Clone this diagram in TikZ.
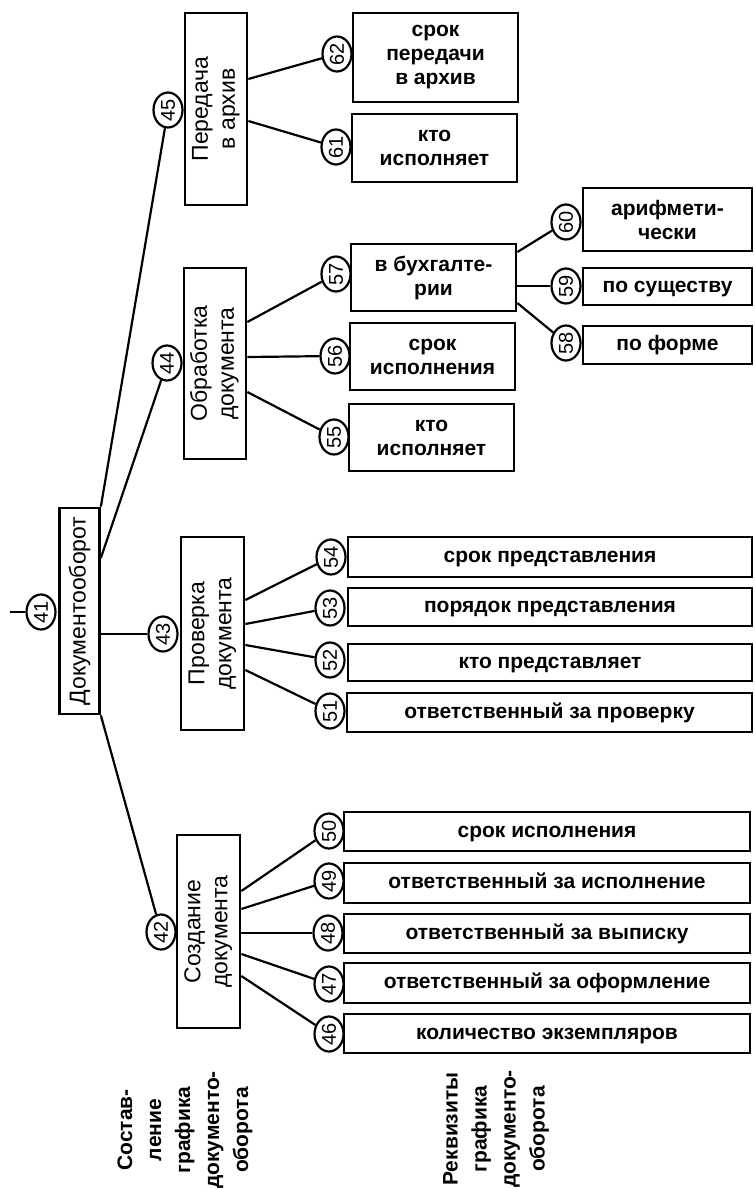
\documentclass[tikz,border=0pt]{standalone}
\usepackage{fontspec}
\setmainfont{Liberation Sans}
\usetikzlibrary{shapes.geometric}
\begin{document}
\begin{tikzpicture}[x=1pt,y=1pt,
  box/.style={draw, line width=2.7pt, inner sep=0pt, align=center,
    font=\fontsize{21}{24}\selectfont\bfseries},
  one/.style={box, text height=15pt, text depth=4pt},
  vbox/.style={draw, line width=2.7pt, inner sep=0pt,
    font=\fontsize{23}{27}\selectfont},
  num/.style={ellipse, draw, line width=2.2pt, inner sep=0pt, rotate=90,
    minimum width=35pt, minimum height=29pt, font=\fontsize{20}{20}\selectfont},
  conn/.style={line width=2.2pt},
  caption/.style={rotate=90, align=center, inner sep=0pt,
    font=\fontsize{21}{29}\selectfont\bfseries}]
\useasboundingbox (0,0) rectangle (755,-1189);

% root
\node[vbox, minimum width=40pt, minimum height=206pt] (doc) at (79.5,-611)
  {\rotatebox{90}{Документооборот}};
\node[num] (c41) at (41,-612) {41};
\coordinate (stub) at (10,-612);

% level 1 boxes
\node[vbox, minimum width=62pt, minimum height=192pt] (p45) at (216,-109)
  {\rotatebox{90}{\begin{tabular}{@{}c@{}}Передача\\в архив\end{tabular}}};
\node[num] (c45) at (168,-110) {45};
\node[vbox, minimum width=62pt, minimum height=191pt] (p44) at (215,-363.5)
  {\rotatebox{90}{\begin{tabular}{@{}c@{}}Обработка\\документа\end{tabular}}};
\node[num] (c44) at (167,-363) {44};
\node[vbox, minimum width=63pt, minimum height=193pt] (p43) at (212.5,-633.5)
  {\rotatebox{90}{\begin{tabular}{@{}c@{}}Проверка\\документа\end{tabular}}};
\node[num] (c43) at (163,-634) {43};
\node[vbox, minimum width=63pt, minimum height=193pt] (p42) at (208.5,-931.5)
  {\rotatebox{90}{\begin{tabular}{@{}c@{}}Создание\\документа\end{tabular}}};
\node[num] (c42) at (161,-932) {42};

% Передача в архив
\node[box, minimum width=165pt, minimum height=89pt] (b62) at (435.5,-57.5) {срок\\передачи\\в архив};
\node[num] (c62) at (337,-54) {62};
\node[box, minimum width=165pt, minimum height=68pt] (b61) at (434.5,-148) {кто\\исполняет};
\node[num] (c61) at (336,-147) {61};

% Обработка документа
\node[box, minimum width=165pt, minimum height=67pt] (b57) at (433.5,-277.5) {в бухгалте-\\рии};
\node[num] (c57) at (336,-274) {57};
\node[box, minimum width=165pt, minimum height=67pt] (b56) at (432.5,-356.5) {срок\\исполнения};
\node[num] (c56) at (335,-356) {56};
\node[box, minimum width=165pt, minimum height=67pt] (b55) at (431.5,-437.5) {кто\\исполняет};
\node[num] (c55) at (334,-437) {55};

\node[box, minimum width=169pt, minimum height=63pt] (b60) at (667.5,-219.5) {арифмети-\\чески};
\node[num] (c60) at (566,-222) {60};
\node[one, minimum width=169pt, minimum height=37pt] (b59) at (667.5,-286.5) {по существу};
\node[num] (c59) at (566,-286) {59};
\node[one, minimum width=169pt, minimum height=38pt] (b58) at (667.5,-345) {по форме};
\node[num] (c58) at (566,-343) {58};

% Проверка документа
\node[one, minimum width=404pt, minimum height=40pt] (b54) at (550,-557) {срок представления};
\node[num] (c54) at (331,-557) {54};
\node[one, minimum width=404pt, minimum height=38pt] (b53) at (550,-607) {порядок представления};
\node[num] (c53) at (330,-608) {53};
\node[one, minimum width=404pt, minimum height=37pt] (b52) at (550,-662.5) {кто представляет};
\node[num] (c52) at (330,-660) {52};
\node[one, minimum width=405pt, minimum height=39pt] (b51) at (549.5,-712.5) {ответственный за проверку};
\node[num] (c51) at (330,-711) {51};

% Создание документа
\node[one, minimum width=406pt, minimum height=39pt] (b50) at (547,-831.5) {срок исполнения};
\node[num] (c50) at (329,-831) {50};
\node[one, minimum width=406pt, minimum height=40pt] (b49) at (547,-883) {ответственный за исполнение};
\node[num] (c49) at (329,-881) {49};
\node[one, minimum width=406pt, minimum height=39pt] (b48) at (547,-933.5) {ответственный за выписку};
\node[num] (c48) at (328,-933) {48};
\node[one, minimum width=406pt, minimum height=40pt] (b47) at (547,-983) {ответственный за оформление};
\node[num] (c47) at (329,-984) {47};
\node[one, minimum width=406pt, minimum height=39pt] (b46) at (547,-1033.5) {количество экземпляров};
\node[num] (c46) at (329,-1034) {46};

% captions
\node[caption] (cap1) at (185,-1130) {Состав-\\ление\\графика\\документо-\\оборота};
\node[caption] (cap2) at (496,-1129) {Реквизиты\\графика\\документо-\\оборота};

% connectors
\draw[conn] (stub) -- (c41);
\draw[conn] (doc.north east) -- (c45);
\draw[conn] ([yshift=53pt]doc.east) -- (c44);
\draw[conn] (doc.east |- c43) -- (c43);
\draw[conn] (doc.south east) -- (c42);

\draw[conn] ([yshift=30pt]p45.east) -- (c62);
\draw[conn] ([yshift=-12pt]p45.east) -- (c61);

\draw[conn] ([yshift=41.5pt]p44.east) -- (c57);
\draw[conn] ([yshift=6.5pt]p44.east) -- (c56);
\draw[conn] ([yshift=-28.5pt]p44.east) -- (c55);

\draw[conn] ([yshift=25.5pt]b57.east) -- (c60);
\draw[conn] (b57.east |- c59) -- (c59);
\draw[conn] ([yshift=-25.5pt]b57.east) -- (c58);

\draw[conn] ([yshift=33.5pt]p43.east) -- (c54);
\draw[conn] ([yshift=9.5pt]p43.east) -- (c53);
\draw[conn] ([yshift=-11.5pt]p43.east) -- (c52);
\draw[conn] ([yshift=-36.5pt]p43.east) -- (c51);

\draw[conn] ([yshift=40.5pt]p42.east) -- (c50);
\draw[conn] ([yshift=22.5pt]p42.east) -- (c49);
\draw[conn] (p42.east |- c48) -- (c48);
\draw[conn] ([yshift=-22.5pt]p42.east) -- (c47);
\draw[conn] ([yshift=-44.5pt]p42.east) -- (c46);
\end{tikzpicture}
\end{document}
